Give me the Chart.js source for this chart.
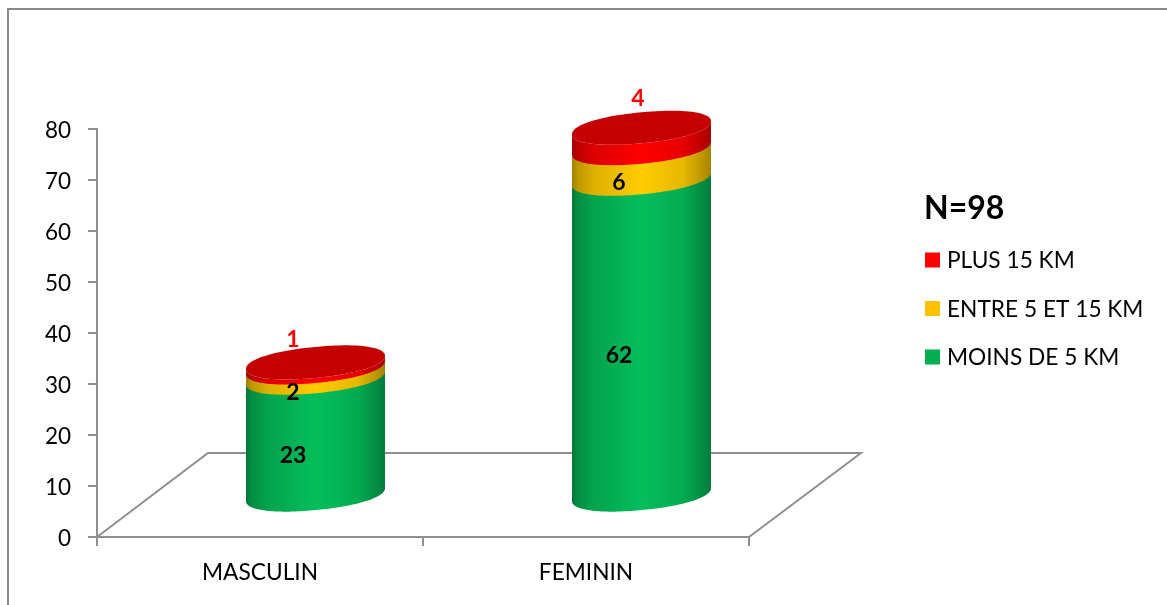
<!DOCTYPE html>
<html>
<head>
<meta charset="utf-8">
<script src="https://cdn.jsdelivr.net/npm/chart.js@4/dist/chart.umd.js"></script>
<style>
  html, body { margin: 0; padding: 0; background: #fff; }
  canvas { display: block; }
</style>
</head>
<body>
<canvas id="c" width="1167" height="605"></canvas>
<script>
const categories = ['MASCULIN', 'FEMININ'];
const moinsDe5 = [23, 62];
const entre5Et15 = [2, 6];
const plus15 = [1, 4];
const tickStep = 10;
const axisMax = 80;
const sampleSize = 'N=98';

const FONT = 'Lato, Carlito, sans-serif';
const GREY = '#8f8f8f';
// Oblique projection of the 3D box: floor depth and the position of the bars on it.
const FLOOR = { dx: 111, dy: -84 };
const BAR_PLANE = { dx: 55.5, dy: -42 };
const ELLIPSE = { ry: 15.5, shear: 6.5, power: 0.93 };
// Peak colour of the lit side of each series, keyed by its flat legend colour.
const SIDE_RGB = {
  '#00b050': [4, 190, 90],
  '#ffc000': [255, 204, 0],
  '#ff0000': [255, 0, 0]
};
const SHADING = [[0, 0.62], [0.04, 0.74], [0.15, 0.86], [0.5, 1], [0.8, 0.9], [0.95, 0.72], [1, 0.64]];

function scaleRgb(rgb, k) {
  return 'rgb(' + rgb.map(v => Math.round(v * k)).join(',') + ')';
}

function rounded(v) {
  return Math.sign(v) * Math.pow(Math.abs(v), ELLIPSE.power);
}

function ellipsePath(ctx, cx, cy, rx, start, end) {
  // Slightly squared, sheared ellipse: vertical tangents at the sides, right side raised.
  const n = 96;
  for (let i = 0; i <= n; i++) {
    const t = start + (end - start) * i / n;
    const c = rounded(Math.cos(t)), s = rounded(Math.sin(t));
    ctx.lineTo(cx + rx * c, cy + ELLIPSE.ry * s - ELLIPSE.shear * c);
  }
}

class CylinderElement extends Chart.BarElement {
  static id = 'cylinderBar';
  draw(ctx) {
    const { x, y, base, width } = this.getProps(['x', 'y', 'base', 'width'], true);
    const rgb = SIDE_RGB[this.options.backgroundColor];
    const cx = x + BAR_PLANE.dx, rx = width / 2;
    const top = y + BAR_PLANE.dy, bottom = base + BAR_PLANE.dy;
    const g = ctx.createLinearGradient(cx - rx, 0, cx + rx, 0);
    SHADING.forEach(([at, k]) => g.addColorStop(at, scaleRgb(rgb, k)));
    ctx.save();
    ctx.fillStyle = g;
    ctx.beginPath();
    ellipsePath(ctx, cx, top, rx, 0, Math.PI);
    ellipsePath(ctx, cx, bottom + 0.6, rx, Math.PI, 0);
    ctx.closePath();
    ctx.fill();
    ctx.restore();
  }
}

class CylinderController extends Chart.BarController {
  static id = 'cylinder';
  static defaults = { ...Chart.BarController.defaults, dataElementType: 'cylinderBar' };
}
Chart.register(CylinderElement, CylinderController);

const depthBox = {
  id: 'depthBox',
  beforeDraw(chart) {
    const { ctx, chartArea: a, width } = chart;
    ctx.save();
    // outer frame of the chart object
    ctx.strokeStyle = '#8a8a8a';
    ctx.lineWidth = 2;
    ctx.beginPath();
    ctx.moveTo(8, chart.height);
    ctx.lineTo(8, 9);
    ctx.lineTo(width, 9);
    ctx.stroke();
    // floor of the 3D box
    ctx.strokeStyle = GREY;
    ctx.lineWidth = 2;
    ctx.beginPath();
    ctx.moveTo(a.left, a.bottom);
    ctx.lineTo(a.left + FLOOR.dx, a.bottom + FLOOR.dy);
    ctx.lineTo(a.right + FLOOR.dx + 1, a.bottom + FLOOR.dy);
    ctx.lineTo(a.right, a.bottom);
    ctx.stroke();
    ctx.restore();
  }
};

// Offsets of the value labels: centred ones sit on the front of the bars, the top ones float above.
const LABEL_SHIFT = { dx: 33, dy: -22.5 };
const TOP_LABEL_SHIFT = [{ dx: 33, dy: -67 }, { dx: 52, dy: -81 }];

const cylinderDecor = {
  id: 'cylinderDecor',
  afterDatasetsDraw(chart) {
    const { ctx } = chart;
    const last = chart.data.datasets.length - 1;
    // top caps
    chart.getDatasetMeta(last).data.forEach(bar => {
      const cx = bar.x + BAR_PLANE.dx, cy = bar.y + BAR_PLANE.dy, rx = bar.width / 2;
      ctx.save();
      ctx.fillStyle = '#c40000';
      ctx.beginPath();
      ellipsePath(ctx, cx, cy, rx, 0, Math.PI * 2);
      ctx.closePath();
      ctx.fill();
      ctx.restore();
    });
    // value labels
    ctx.save();
    ctx.font = 'bold 23px ' + FONT;
    ctx.textAlign = 'center';
    ctx.textBaseline = 'middle';
    chart.data.datasets.forEach((ds, d) => {
      chart.getDatasetMeta(d).data.forEach((bar, i) => {
        const value = ds.data[i];
        if (d === last) {
          const s = TOP_LABEL_SHIFT[i];
          ctx.fillStyle = '#ff0000';
          ctx.fillText(value, bar.x + s.dx, (bar.y + bar.base) / 2 + s.dy);
        } else {
          ctx.fillStyle = '#000';
          ctx.fillText(value, bar.x + LABEL_SHIFT.dx, (bar.y + bar.base) / 2 + LABEL_SHIFT.dy);
        }
      });
    });
    ctx.restore();
  },
  afterDraw(chart) {
    const { ctx } = chart;
    ctx.save();
    ctx.textBaseline = 'middle';
    ctx.textAlign = 'left';
    ctx.fillStyle = '#000';
    ctx.font = 'bold 32px ' + FONT;
    ctx.fillText(sampleSize, 924, 208.5);
    ctx.font = '22.7px ' + FONT;
    const rows = [...chart.data.datasets].reverse();
    const rowY = [260, 308.5, 357];
    rows.forEach((ds, i) => {
      ctx.fillStyle = ds.backgroundColor;
      ctx.fillRect(925, rowY[i] - 7.5, 15, 15);
      ctx.fillStyle = '#000';
      ctx.fillText(ds.label, 947, rowY[i] + 1);
    });
    ctx.restore();
  }
};

new Chart(document.getElementById('c'), {
  type: 'cylinder',
  data: {
    labels: categories,
    datasets: [
      { label: 'MOINS DE 5 KM', data: moinsDe5, backgroundColor: '#00b050', clip: false },
      { label: 'ENTRE 5 ET 15 KM', data: entre5Et15, backgroundColor: '#ffc000', clip: false },
      { label: 'PLUS 15 KM', data: plus15, backgroundColor: '#ff0000', clip: false }
    ]
  },
  options: {
    responsive: false,
    animation: false,
    barPercentage: 0.4264,
    categoryPercentage: 1,
    layout: { padding: { left: 0, right: 418, top: 129, bottom: 0 } },
    plugins: { legend: { display: false }, tooltip: { enabled: false } },
    scales: {
      x: {
        type: 'category',
        stacked: true,
        afterFit(scale) { scale.height = 68; },
        grid: { drawOnChartArea: false, color: GREY, lineWidth: 2, tickLength: 9 },
        border: { color: GREY, width: 2 },
        ticks: { color: '#000', font: { family: FONT, size: 22.7 }, padding: 13, maxRotation: 0 }
      },
      y: {
        type: 'linear',
        stacked: true,
        min: 0,
        max: axisMax,
        afterFit(scale) { scale.width = 97; },
        grid: { drawOnChartArea: false, color: GREY, lineWidth: 2, tickLength: 9 },
        border: { color: GREY, width: 2 },
        ticks: { color: '#000', stepSize: tickStep, font: { family: FONT, size: 22.5 }, padding: 17, labelOffset: 2 }
      }
    }
  },
  plugins: [depthBox, cylinderDecor]
});
</script>
</body>
</html>
